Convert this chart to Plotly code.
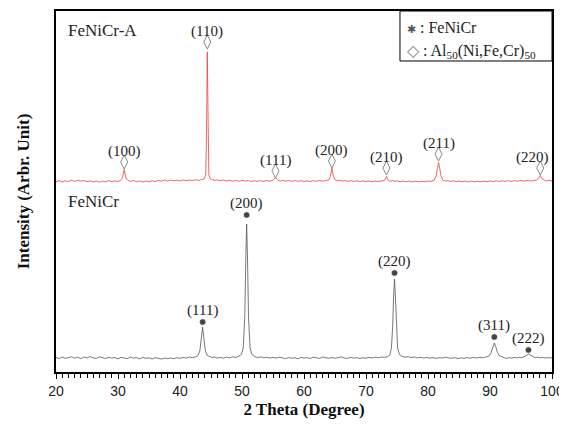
import plotly.graph_objects as go

# ---------------- data ----------------
# FeNiCr (as-cast) pattern: 2-theta (deg) and intensity (arb. units)
fenicr_2theta = [
    20.0, 20.5, 21.0, 21.5, 22.0, 22.5, 23.0, 23.5, 24.0, 24.5, 25.0, 25.5, 26.0, 26.5, 27.0, 27.5,
    28.0, 28.5, 29.0, 29.5, 30.0, 30.5, 31.0, 31.5, 32.0, 32.5, 33.0, 33.5, 34.0, 34.5, 35.0, 35.5,
    36.0, 36.5, 37.0, 37.5, 38.0, 38.5, 39.0, 39.5, 40.0, 40.5, 41.0, 41.5, 42.0, 42.5, 42.9, 43.2,
    43.4, 43.65, 43.9, 44.1, 44.4, 44.8, 45.2, 45.6, 46.0, 46.5, 47.0, 47.5, 48.0, 48.5, 49.0, 49.5,
    49.9, 50.2, 50.45, 50.6, 50.75, 50.9, 51.05, 51.3, 51.6, 52.0, 52.5, 53.0, 53.5, 54.0, 54.5, 55.0,
    55.5, 56.0, 56.5, 57.0, 57.5, 58.0, 58.5, 59.0, 59.5, 60.0, 60.5, 61.0, 61.5, 62.0, 62.5, 63.0,
    63.5, 64.0, 64.5, 65.0, 65.5, 66.0, 66.5, 67.0, 67.5, 68.0, 68.5, 69.0, 69.5, 70.0, 70.5, 71.0,
    71.5, 72.0, 72.5, 73.0, 73.5, 73.85, 74.1, 74.3, 74.45, 74.6, 74.75, 74.9, 75.1, 75.4, 75.8, 76.3,
    76.8, 77.3, 77.8, 78.3, 78.8, 79.3, 79.8, 80.3, 80.8, 81.3, 81.8, 82.3, 82.8, 83.3, 83.8, 84.3,
    84.8, 85.3, 85.8, 86.3, 86.8, 87.3, 87.8, 88.3, 88.8, 89.3, 89.8, 90.1, 90.4, 90.7, 90.95, 91.2,
    91.5, 91.9, 92.3, 92.7, 93.1, 93.5, 93.9, 94.3, 94.7, 95.1, 95.5, 95.9, 96.2, 96.5, 96.9, 97.3,
    97.7, 98.1, 98.5, 98.9, 99.3, 99.7, 100.0,
]
fenicr_intensity = [
    14.6, 13.4, 15.0, 13.7, 14.3, 15.2, 13.9, 14.7, 13.4, 15.0, 14.0, 15.4, 14.2, 13.6, 15.2, 14.1,
    13.5, 14.8, 13.9, 14.5, 13.2, 14.7, 14.0, 13.3, 14.9, 13.8, 14.4, 13.1, 14.6, 13.7, 14.2, 13.0,
    14.3, 13.5, 12.9, 14.0, 13.3, 14.1, 13.2, 14.4, 13.6, 14.7, 13.9, 15.0, 14.3, 15.1, 16.5, 21.0,
    32.0, 45.0, 31.0, 21.0, 16.5, 15.2, 14.4, 15.0, 13.9, 14.6, 13.8, 15.0, 14.2, 15.1, 14.5, 15.8,
    17.5, 24.0, 55.0, 110.0, 148.0, 110.0, 55.0, 24.0, 17.5, 15.6, 14.4, 15.1, 14.2, 14.8, 13.9, 14.6,
    13.8, 14.9, 14.0, 13.4, 14.5, 13.7, 14.3, 13.2, 14.6, 13.9, 14.4, 13.5, 14.8, 14.1, 13.6, 14.9,
    14.2, 13.7, 14.5, 13.8, 14.3, 15.2, 14.0, 13.6, 14.7, 13.9, 14.4, 13.5, 14.2, 13.8, 14.6, 14.0,
    14.9, 14.3, 15.0, 14.6, 15.4, 17.0, 24.0, 45.0, 75.0, 93.0, 75.0, 45.0, 24.0, 17.5, 15.6, 14.8,
    15.3, 14.5, 15.0, 14.1, 14.7, 13.9, 14.6, 13.8, 14.4, 13.6, 14.3, 13.9, 14.8, 14.1, 13.7, 14.5,
    13.3, 14.2, 13.6, 14.4, 13.8, 14.6, 14.0, 14.7, 14.2, 15.0, 15.8, 18.0, 23.5, 29.0, 25.0, 19.5,
    16.5, 15.0, 14.2, 13.6, 14.4, 13.8, 14.6, 14.0, 14.8, 14.3, 15.3, 16.6, 18.0, 16.8, 15.2, 14.3,
    14.9, 14.1, 14.7, 13.9, 14.5, 14.0, 14.4,
]

# FeNiCr-A pattern (offset upward)
fenicra_2theta = [
    20.0, 20.5, 21.0, 21.5, 22.0, 22.5, 23.0, 23.5, 24.0, 24.5, 25.0, 25.5, 26.0, 26.5, 27.0, 27.5,
    28.0, 28.5, 29.0, 29.5, 30.0, 30.4, 30.7, 30.9, 31.0, 31.1, 31.3, 31.6, 32.0, 32.5, 33.0, 33.5,
    34.0, 34.5, 35.0, 35.5, 36.0, 36.5, 37.0, 37.5, 38.0, 38.5, 39.0, 39.5, 40.0, 40.5, 41.0, 41.5,
    42.0, 42.5, 43.0, 43.5, 43.9, 44.15, 44.28, 44.4, 44.52, 44.65, 44.9, 45.3, 45.7, 46.0, 46.5, 47.0,
    47.5, 48.0, 48.5, 49.0, 49.5, 50.0, 50.5, 51.0, 51.5, 52.0, 52.5, 53.0, 53.5, 54.0, 54.5, 55.0,
    55.25, 55.4, 55.55, 55.8, 56.2, 56.6, 57.0, 57.5, 58.0, 58.5, 59.0, 59.5, 60.0, 60.5, 61.0, 61.5,
    62.0, 62.5, 63.0, 63.5, 64.0, 64.25, 64.5, 64.75, 65.0, 65.4, 65.8, 66.2, 66.6, 67.0, 67.5, 68.0,
    68.5, 69.0, 69.5, 70.0, 70.5, 71.0, 71.5, 72.0, 72.5, 73.0, 73.3, 73.55, 73.9, 74.3, 74.7, 75.0,
    75.5, 76.0, 76.5, 77.0, 77.5, 78.0, 78.5, 79.0, 79.5, 80.0, 80.5, 81.0, 81.3, 81.55, 81.7, 81.85,
    82.1, 82.4, 82.8, 83.2, 83.6, 84.0, 84.5, 85.0, 85.5, 86.0, 86.5, 87.0, 87.5, 88.0, 88.5, 89.0,
    89.5, 90.0, 90.5, 91.0, 91.5, 92.0, 92.5, 93.0, 93.5, 94.0, 94.5, 95.0, 95.5, 96.0, 96.5, 97.0,
    97.5, 97.8, 98.1, 98.4, 98.7, 99.0, 99.5, 100.0,
]
fenicra_intensity = [
    190.2, 191.4, 190.0, 191.1, 190.5, 191.8, 190.6, 191.9, 190.8, 191.5, 190.3, 191.2, 190.1, 191.0, 189.9, 190.8,
    190.2, 191.3, 190.4, 191.0, 190.6, 191.5, 194.0, 199.0, 202.5, 199.0, 194.0, 191.6, 190.7, 191.4, 190.3, 191.1,
    190.0, 190.9, 190.2, 191.3, 190.5, 191.6, 190.8, 191.9, 191.0, 192.0, 191.2, 191.8, 191.0, 192.1, 191.3, 192.0,
    191.4, 192.2, 191.6, 192.4, 193.0, 197.0, 240.0, 320.0, 240.0, 197.0, 193.2, 192.0, 191.4, 192.1, 191.3, 191.9,
    191.0, 191.7, 190.9, 191.5, 190.8, 191.6, 190.9, 191.4, 190.7, 191.2, 190.6, 191.3, 190.7, 191.5, 190.9, 191.8,
    193.0, 194.5, 193.0, 191.6, 191.0, 191.7, 190.9, 191.5, 190.8, 191.4, 190.7, 191.3, 190.6, 191.2, 190.5, 191.3,
    190.8, 191.5, 190.9, 191.6, 192.0, 195.5, 204.0, 195.5, 192.2, 191.2, 191.8, 190.9, 191.5, 190.7, 191.3, 190.6,
    191.2, 190.5, 191.1, 190.4, 191.0, 190.3, 190.9, 190.4, 191.2, 191.6, 195.5, 192.0, 190.8, 191.4, 190.5, 191.1,
    190.4, 191.0, 190.3, 190.9, 190.2, 190.8, 190.1, 190.7, 190.3, 191.0, 190.6, 191.8, 196.0, 205.0, 209.5, 205.0,
    196.0, 191.8, 190.9, 191.4, 190.6, 191.2, 190.4, 191.0, 190.3, 190.9, 190.2, 190.8, 190.1, 190.7, 190.2, 190.9,
    190.3, 191.0, 190.4, 191.1, 190.5, 191.2, 190.6, 191.3, 190.7, 191.4, 190.8, 191.5, 190.9, 191.6, 191.0, 191.5,
    192.0, 193.5, 196.5, 193.5, 191.8, 191.0, 191.6, 190.9,
]

# Peak indexing
fenicr_hkl = ["(111)", "(200)", "(220)", "(311)", "(222)"]
fenicr_peak_2theta = [43.65, 50.75, 74.6, 90.7, 96.2]
fenicr_marker_y = [50, 157, 99, 35, 22]

al_hkl = ["(100)", "(110)", "(111)", "(200)", "(210)", "(211)", "(220)"]
al_peak_2theta = [31.0, 44.4, 55.4, 64.5, 73.3, 81.7, 98.1]
al_marker_y = [210, 330, 201, 211, 204, 218, 204]

x_ticks = [20, 30, 40, 50, 60, 70, 80, 90, 100]

SERIF = "Liberation Serif, Times New Roman, serif"
SANS = "Liberation Sans, Arial, sans-serif"

fig = go.Figure()

fig.add_trace(go.Scatter(x=fenicra_2theta, y=fenicra_intensity, mode="lines",
                         line=dict(color="#e8413c", width=0.8), hoverinfo="skip"))
fig.add_trace(go.Scatter(x=fenicr_2theta, y=fenicr_intensity, mode="lines",
                         line=dict(color="#555555", width=0.8), hoverinfo="skip"))

fig.add_trace(go.Scatter(x=fenicr_peak_2theta, y=fenicr_marker_y, mode="markers",
                         marker=dict(symbol="circle", size=5.5, color="#444444",
                                     line=dict(color="#666666", width=0.5)), hoverinfo="skip"))
fig.add_trace(go.Scatter(x=al_peak_2theta, y=al_marker_y, mode="markers",
                         marker=dict(symbol="diamond-tall-open", size=10, color="#8a8a8a",
                                     line=dict(width=1)), hoverinfo="skip"))

LBL = 15
annotations = []
for lab, xv, yv in zip(fenicr_hkl, fenicr_peak_2theta, fenicr_marker_y):
    annotations.append(dict(x=xv, y=yv, xref="x", yref="y", text=lab, showarrow=False,
                            yshift=12, font=dict(family=SERIF, size=LBL, color="#222")))
for i, (lab, xv, yv) in enumerate(zip(al_hkl, al_peak_2theta, al_marker_y)):
    annotations.append(dict(x=xv, y=yv, xref="x", yref="y", text=lab, showarrow=False,
                            yshift=11, xshift=(-8 if i == len(al_hkl) - 1 else 0),
                            font=dict(family=SERIF, size=LBL, color="#222")))

# sample names
annotations.append(dict(x=0.02, y=0.947, xref="paper", yref="paper", text="FeNiCr-A",
                        showarrow=False, xanchor="left", yanchor="middle",
                        font=dict(family=SERIF, size=17, color="#222")))
annotations.append(dict(x=0.02, y=0.471, xref="paper", yref="paper", text="FeNiCr",
                        showarrow=False, xanchor="left", yanchor="middle",
                        font=dict(family=SERIF, size=17, color="#222")))

# legend box text
annotations.append(dict(x=0.704, y=0.955, xref="paper", yref="paper",
                        text="<span style='font-size:11px;color:#555'>✱</span> : FeNiCr",
                        showarrow=False, xanchor="left", yanchor="middle",
                        font=dict(family=SERIF, size=16, color="#222")))
annotations.append(dict(x=0.704, y=0.888, xref="paper", yref="paper",
                        text="<span style='color:#8a8a8a'>◇</span> : Al<sub>50</sub>(Ni,Fe,Cr)<sub>50</sub>",
                        showarrow=False, xanchor="left", yanchor="middle",
                        font=dict(family=SERIF, size=16, color="#222")))

# the page body adds an 8px offset; the figure is sized so the plot area sits
# at x 56-552, y 11-372 of the 567x428 window
fig.update_layout(
    width=559, height=420,
    margin=dict(l=48, r=15, t=3, b=56, autoexpand=False),
    paper_bgcolor="white", plot_bgcolor="white",
    showlegend=False,
    annotations=annotations,
    shapes=[dict(type="rect", xref="paper", yref="paper", x0=0.6935, y0=0.8615, x1=1.0, y1=1.0,
                 line=dict(color="black", width=1), fillcolor="rgba(0,0,0,0)")],
)

fig.update_xaxes(
    range=[20, 100], tickvals=x_ticks, ticktext=[str(t) for t in x_ticks],
    ticks="outside", ticklen=5, tickwidth=1, tickcolor="black",
    minor=dict(dtick=1, ticks="outside", ticklen=4, tickcolor="black", tickwidth=1),
    showline=True, linecolor="black", linewidth=1.5, mirror=True,
    showgrid=False, zeroline=False, automargin=False,
    tickfont=dict(family=SANS, size=14, color="#222"),
    title=dict(text="<b>2 Theta (Degree)</b>", font=dict(family=SERIF, size=17, color="#111"),
               standoff=6),
)
fig.update_yaxes(
    range=[0, 361], showticklabels=False, ticks="",
    showline=True, linecolor="black", linewidth=1.5, mirror=True,
    showgrid=False, zeroline=False, automargin=False,
    title=dict(text="<b>Intensity (Arbr. Unit)</b>", font=dict(family=SERIF, size=17, color="#111"),
               standoff=20),
)

fig.write_html("out.html")
